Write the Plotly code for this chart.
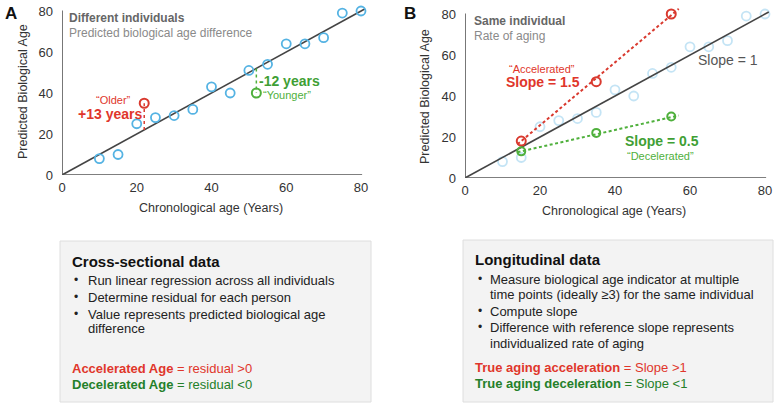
import plotly.graph_objects as go

# ---------------- data ----------------
chrono_age = [10, 15, 20, 25, 30, 35, 40, 45, 50, 55, 60, 65, 70, 75, 80]
bio_age = [8, 10, 25, 28, 29, 32, 43, 40, 51, 54, 64, 64, 67, 79, 80]

ref_x = [0, 81]
ref_y = [0, 81]

older_x = [22]
older_y = [35]
older_fit = [22]
younger_x = [52]
younger_y = [40]
younger_fit = [52]

accel_x = [15, 35, 55]
accel_y = [18, 47, 80]
accel_line_x = [14, 57]
accel_line_y = [16.5, 82.5]

decel_x = [15, 35, 55]
decel_y = [13, 22, 30]
decel_line_x = [14, 57]
decel_line_y = [12.6, 30.5]

ticks = [0, 20, 40, 60, 80]

BLUE = "#55b3e3"
RED = "#d93a2f"
GREEN = "#4fb03c"
DKRED = "#e0362b"
DKGREEN = "#24802a"
GRAY = "#444444"
FONT = "Liberation Sans, Arial, Helvetica, sans-serif"

W, H = 777, 406


def px(x):
    return x / W


def py(y):
    return 1 - y / H


fig = go.Figure()

# ---------------- panel A ----------------
fig.add_trace(go.Scatter(x=ref_x, y=ref_y, mode="lines", line=dict(color=GRAY, width=1.6),
                         xaxis="x", yaxis="y", hoverinfo="skip"))
fig.add_trace(go.Scatter(x=chrono_age, y=bio_age, mode="markers",
                         marker=dict(symbol="circle-open", size=9, color=BLUE, line=dict(width=1.8)),
                         xaxis="x", yaxis="y"))
fig.add_trace(go.Scatter(x=[older_x[0], older_x[0]], y=[older_fit[0], older_y[0]], mode="lines",
                         line=dict(color=RED, width=1.5, dash="dot"), xaxis="x", yaxis="y"))
fig.add_trace(go.Scatter(x=older_x, y=older_y, mode="markers",
                         marker=dict(symbol="circle-open", size=9, color=RED, line=dict(width=2)),
                         xaxis="x", yaxis="y"))
fig.add_trace(go.Scatter(x=[younger_x[0], younger_x[0]], y=[younger_fit[0], younger_y[0]], mode="lines",
                         line=dict(color=GREEN, width=1.5, dash="dot"), xaxis="x", yaxis="y"))
fig.add_trace(go.Scatter(x=younger_x, y=younger_y, mode="markers",
                         marker=dict(symbol="circle-open", size=9, color=GREEN, line=dict(width=2)),
                         xaxis="x", yaxis="y"))

# ---------------- panel B ----------------
fig.add_trace(go.Scatter(x=chrono_age, y=bio_age, mode="markers",
                         marker=dict(symbol="circle-open", size=9, color=BLUE, opacity=0.35, line=dict(width=1.8)),
                         xaxis="x2", yaxis="y2"))
fig.add_trace(go.Scatter(x=ref_x, y=ref_y, mode="lines", line=dict(color=GRAY, width=1.6),
                         xaxis="x2", yaxis="y2"))
fig.add_trace(go.Scatter(x=accel_line_x, y=accel_line_y, mode="lines",
                         line=dict(color=RED, width=2, dash="3px,2.5px"), xaxis="x2", yaxis="y2"))
fig.add_trace(go.Scatter(x=accel_x, y=accel_y, mode="markers",
                         marker=dict(symbol="circle-open", size=9, color=RED, line=dict(width=2)),
                         xaxis="x2", yaxis="y2"))
fig.add_trace(go.Scatter(x=decel_line_x, y=decel_line_y, mode="lines",
                         line=dict(color=GREEN, width=2, dash="3px,2.5px"), xaxis="x2", yaxis="y2"))
fig.add_trace(go.Scatter(x=decel_x, y=decel_y, mode="markers",
                         marker=dict(symbol="circle-open", size=8, color=GREEN, line=dict(width=2)),
                         xaxis="x2", yaxis="y2"))

# axis geometry (pixel-derived domains)
axA = dict(x0=62, x80=361, y0=175, y80=11)
axB = dict(x0=465, x80=765, y0=178, y80=14)
XR, YR = 83, 84


def domains(a):
    sx = (a["x80"] - a["x0"]) / 80
    sy = (a["y0"] - a["y80"]) / 80
    xd = [px(a["x0"]), px(a["x0"] + XR * sx)]
    yd = [py(a["y0"]), py(a["y0"] - YR * sy)]
    return xd, yd


xdA, ydA = domains(axA)
xdB, ydB = domains(axB)

axis_common = dict(range=[0, XR], tickvals=ticks, showgrid=False, zeroline=False, showline=False,
                   ticks="", automargin=False, ticklabelstandoff=3,
                   tickfont=dict(size=13, color="#333", family=FONT), fixedrange=True)
yaxis_common = dict(range=[0, YR], tickvals=ticks, showgrid=False, zeroline=False, showline=False,
                    ticks="", automargin=False, ticklabelstandoff=8,
                    tickfont=dict(size=13, color="#333", family=FONT), fixedrange=True)

fig.update_layout(
    width=W, height=H, margin=dict(l=0, r=0, t=0, b=0, autoexpand=False),
    paper_bgcolor="white", plot_bgcolor="rgba(0,0,0,0)", showlegend=False,
    font=dict(family=FONT), hovermode=False,
    xaxis=dict(domain=xdA, anchor="y", **axis_common),
    yaxis=dict(domain=ydA, anchor="x", **yaxis_common),
    xaxis2=dict(domain=xdB, anchor="y2", **axis_common),
    yaxis2=dict(domain=ydB, anchor="x2", **yaxis_common),
)

shapes = []
for xa, ya in (("x", "y"), ("x2", "y2")):
    shapes.append(dict(type="line", xref=xa, yref=ya, x0=0, y0=0, x1=80.3, y1=0,
                       line=dict(color="#555", width=1.6)))
    shapes.append(dict(type="line", xref=xa, yref=ya, x0=0, y0=0, x1=0, y1=80.3,
                       line=dict(color="#555", width=1.6)))

# text boxes
shapes.append(dict(type="rect", xref="paper", yref="paper", x0=px(60), x1=px(371), y0=py(402), y1=py(241),
                   fillcolor="#f3f3f3", line=dict(color="#dedede", width=1), layer="below"))
shapes.append(dict(type="rect", xref="paper", yref="paper", x0=px(463), x1=px(773), y0=py(402), y1=py(240),
                   fillcolor="#f3f3f3", line=dict(color="#dedede", width=1), layer="below"))
fig.update_layout(shapes=shapes)

ann = []


def txt(x, y, text, size=13, color="#333", xanchor="left", yanchor="middle", angle=0):
    ann.append(dict(x=px(x), y=py(y), xref="paper", yref="paper", text=text, showarrow=False,
                    xanchor=xanchor, yanchor=yanchor, textangle=angle,
                    font=dict(size=size, color=color, family=FONT)))


# panel labels
txt(3, 13, "<b>A</b>", size=17, color="#111")
txt(402, 13, "<b>B</b>", size=17, color="#111")

# axis titles
txt(211, 208, "Chronological age (Years)", size=12.5, xanchor="center")
txt(614, 211, "Chronological age (Years)", size=12.5, xanchor="center")
txt(23, 92, "Predicted Biological Age", size=12.5, xanchor="center", angle=-90)
txt(425, 97, "Predicted Biological Age", size=12.5, xanchor="center", angle=-90)

# panel A annotations
txt(67, 18, "<b>Different individuals</b>", size=12, color="#666")
txt(67, 33, "Predicted biological age difference", size=12, color="#8a8a8a")
txt(113, 100, "\u201cOlder\u201d", size=11, color=DKRED, xanchor="center")
txt(110, 114, "<b>+13 years</b>", size=14, color=DKRED, xanchor="center")
txt(289, 81, "<b>-12 years</b>", size=14, color="#3f9f35", xanchor="center")
txt(287, 95, "\u201cYounger\u201d", size=11, color=GREEN, xanchor="center")

# panel B annotations
txt(472, 21, "<b>Same individual</b>", size=12, color="#666")
txt(472, 36, "Rate of aging", size=12, color="#8a8a8a")
txt(728, 60, "Slope = 1", size=14, color="#555", xanchor="center")
txt(542, 69, "\u201cAccelerated\u201d", size=11, color=DKRED, xanchor="center")
txt(543, 82, "<b>Slope = 1.5</b>", size=14, color=DKRED, xanchor="center")
txt(662, 141, "<b>Slope = 0.5</b>", size=14, color="#3f9f35", xanchor="center")
txt(660, 156, "\u201cDecelerated\u201d", size=11, color=GREEN, xanchor="center")

# box A text
txt(70, 261, "<b>Cross-sectional data</b>", size=15, color="#111")
bulletsA = [(280, "Run linear regression across all individuals"),
            (297, "Determine residual for each person"),
            (314, "Value represents predicted biological age")]
for y, t in bulletsA:
    txt(72, y, "\u2022", size=12, color="#222")
    txt(86, y, t, size=13, color="#222")
txt(86, 328, "difference", size=13, color="#222")
txt(70, 368, "<b>Accelerated Age</b> = residual >0", size=13, color=DKRED)
txt(70, 384, "<b>Decelerated Age</b> = residual <0", size=13, color=DKGREEN)

# box B text
txt(473, 259, "<b>Longitudinal data</b>", size=15, color="#111")
bulletsB = [(279, "Measure biological age indicator at multiple"),
            (311, "Compute slope"),
            (327, "Difference with reference slope represents")]
for y, t in bulletsB:
    txt(476, y, "\u2022", size=12, color="#222")
    txt(488, y, t, size=13, color="#222")
txt(488, 294, "time points (ideally \u22653) for the same individual", size=13, color="#222")
txt(488, 343, "individualized rate of aging", size=13, color="#222")
txt(473, 367, "<b>True aging acceleration</b> = Slope >1", size=13, color=DKRED)
txt(473, 383, "<b>True aging deceleration</b> = Slope <1", size=13, color=DKGREEN)

fig.update_layout(annotations=ann)

fig.write_html("out.html", config={"displayModeBar": False, "staticPlot": True},
               post_script="document.body.style.margin='0';document.body.style.overflow='hidden';")
